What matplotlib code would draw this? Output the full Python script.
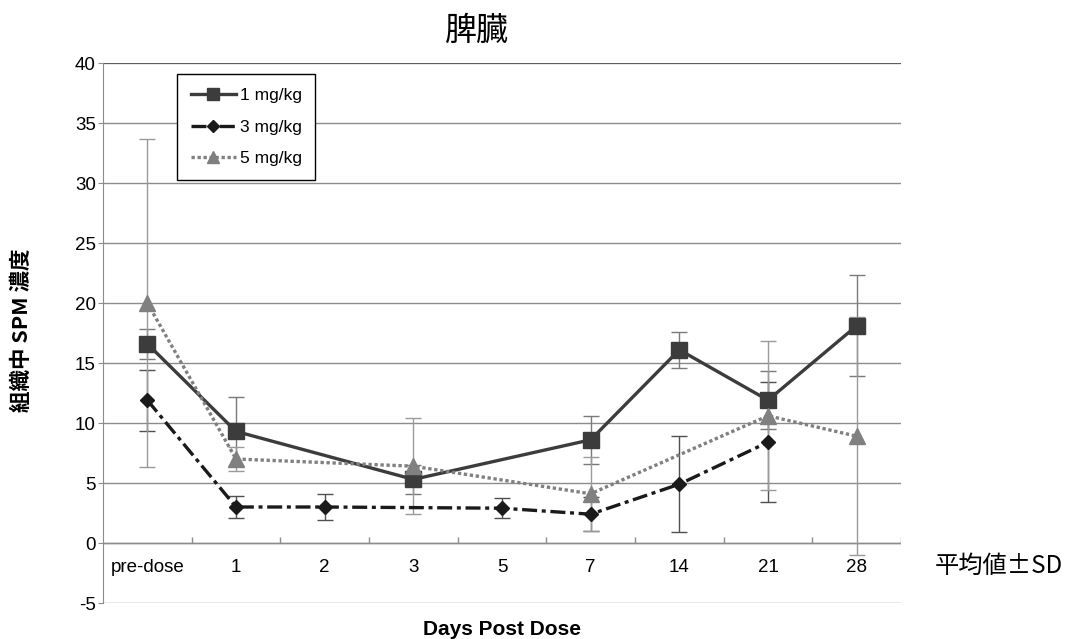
import matplotlib
matplotlib.use("Agg")
import matplotlib.pyplot as plt
import numpy as np

plt.rcParams['font.family'] = ['Liberation Sans', 'Noto Sans CJK JP', 'DejaVu Sans']
plt.rcParams['axes.unicode_minus'] = False

days = ["pre-dose", "1", "2", "3", "5", "7", "14", "21", "28"]

# mean and SD per dose group, None where not sampled
mean_1 = [16.6, 9.3, None, 5.3, None, 8.6, 16.1, 11.9, 18.1]
sd_1 = [1.25, 2.9, None, 1.2, None, 2.0, 1.5, 2.4, 4.2]
mean_3 = [11.9, 3.0, 3.0, None, 2.9, 2.4, 4.9, 8.4, None]
sd_3 = [2.55, 0.9, 1.05, None, 0.85, 1.4, 4.0, 5.0, None]
mean_5 = [20.0, 7.0, None, 6.4, None, 4.1, None, 10.6, 8.9]
sd_5 = [13.7, 1.0, None, 4.0, None, 3.1, None, 6.2, 9.9]

labels = ["1 mg/kg", "3 mg/kg", "5 mg/kg"]

fig = plt.figure(figsize=(10.77, 6.39), dpi=100)
ax = fig.add_axes([103 / 1077, 1 - 603 / 639, 798 / 1077, 540 / 639])

xpos = np.arange(len(days)) + 0.5

styles = [
    dict(color="#3c3c3c", marker="s", ms=11, ls="-", ecolor="#7a7a7a"),
    dict(color="#1a1a1a", marker="D", ms=7.5, ls=(0, (4.5, 1.4, 1.2, 1.4)), ecolor="#505050"),
    dict(color="#808080", marker="^", ms=11, ls=(0, (1.0, 0.8)), ecolor="#9a9a9a"),
]

handles = []
for i, (m, s, st) in enumerate(zip([mean_1, mean_3, mean_5], [sd_1, sd_3, sd_5], styles)):
    ok = [v is not None for v in m]
    x = xpos[ok]
    y = np.array([v for v in m if v is not None])
    e = np.array([v for v in s if v is not None])
    ax.errorbar(x, y, yerr=e, fmt="none", ecolor=st["ecolor"], elinewidth=1.0,
                capsize=5.5, capthick=1.0, zorder=2 + i)
    line, = ax.plot(x, y, color=st["color"], lw=2.4, ls=st["ls"], marker=st["marker"],
                    ms=st["ms"], mec=st["color"], mfc=st["color"], zorder=5 + i,
                    label=labels[i], dash_capstyle="butt")
    handles.append(line)

ax.set_xlim(0, len(days))
ax.set_ylim(-5, 40)
ax.set_yticks(np.arange(-5, 41, 5))
ax.set_xticks([])
ax.yaxis.grid(True, color="#8c8c8c", lw=1.0)
ax.set_axisbelow(True)
for sp in ["top", "right", "bottom"]:
    ax.spines[sp].set_visible(False)
ax.spines["left"].set_color("#8c8c8c")
ax.tick_params(axis="y", length=3.6, color="#8c8c8c", labelsize=13.5, pad=1.5)
ax.axhline(40, color="#555555", lw=1.2, zorder=1)

# category axis at zero with boundary ticks
ax.axhline(0, color="#8c8c8c", lw=1.0, zorder=1)
ax.vlines(np.arange(1, len(days) + 1), 0, 0.5, color="#8c8c8c", lw=1.0, zorder=1)
for xp, d in zip(xpos, days):
    ax.text(xp, -2.0, d, ha="center", va="center", fontsize=13.5)

ax.set_xlabel("Days Post Dose", fontsize=15, fontweight="bold", labelpad=12)

fig.text(21 / 1077, 1 - 330 / 639, "組織中 SPM 濃度", rotation=90, ha="center", va="center",
         fontsize=15.5, fontweight="bold", family=["Noto Sans CJK JP", "DejaVu Sans"])
fig.text(477 / 1077, 1 - 31 / 639, "脾臓", ha="center", va="center", fontsize=23,
         family=["Noto Sans CJK JP", "DejaVu Sans"])
fig.text(999 / 1077, 1 - 566 / 639, "平均値±SD", ha="center", va="center", fontsize=17.5,
         family=["Noto Sans CJK JP", "DejaVu Sans"])

leg = ax.legend(handles=handles, loc="upper left", bbox_to_anchor=(177 / 1077, 1 - 74 / 639),
                bbox_transform=fig.transFigure, borderaxespad=0, fontsize=12.5,
                handlelength=2.6, labelspacing=0.95, handletextpad=0.2, markerscale=0.75,
                fancybox=False, framealpha=1, edgecolor="black", borderpad=0.8)
leg.get_frame().set_linewidth(1.0)

fig.savefig("out.png", dpi=100)
